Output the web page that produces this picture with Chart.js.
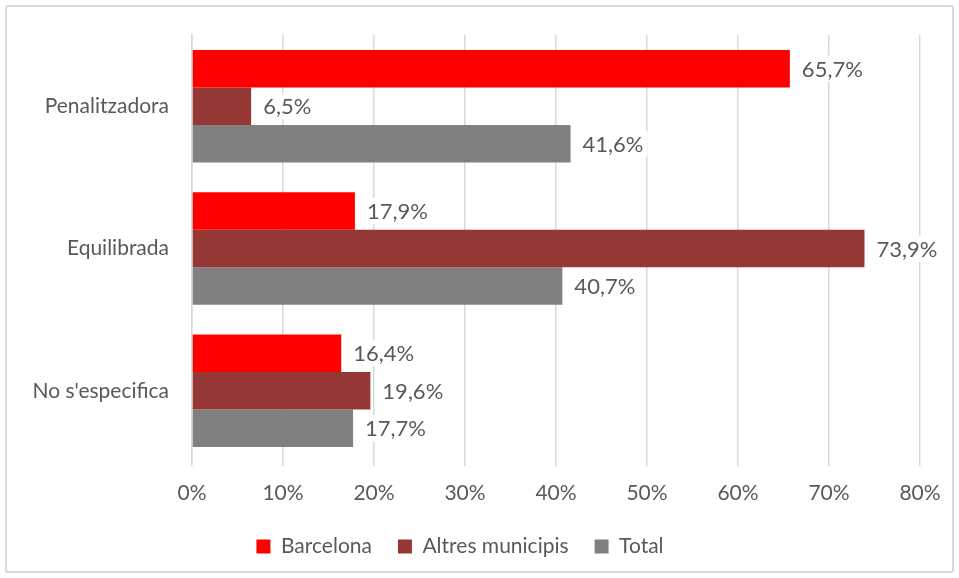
<!DOCTYPE html>
<html>
<head>
<meta charset="utf-8">
<script src="https://cdn.jsdelivr.net/npm/chart.js"></script>
<style>
  html, body { margin: 0; padding: 0; background: #fff; }
  #wrap { position: absolute; left: 0; top: 0; width: 959px; height: 578px; }
  #frame { position: absolute; left: 5px; top: 5px; width: 945px; height: 564px;
           border: 2px solid #d9d9d9; border-radius: 3px; pointer-events: none; }
</style>
</head>
<body>
<div id="wrap"><canvas id="chart"></canvas></div>
<div id="frame"></div>
<script>
// values
const categories = ['Penalitzadora', 'Equilibrada', "No s'especifica"];
const barcelona = [65.7, 17.9, 16.4];
const altres = [6.5, 73.9, 19.6];
const total = [41.6, 40.7, 17.7];
const seriesNames = ['Barcelona', 'Altres municipis', 'Total'];
const seriesColors = ['#ff0000', '#953735', '#808080'];

const FONT = 'Lato, "Open Sans", sans-serif';
const TEXT = '#595959';

const fmt = v => v.toFixed(1).replace('.', ',') + '%';

// labels at the end of each bar, on a white box
const valueLabels = {
    id: 'valueLabels',
    afterDatasetsDraw(chart) {
        const ctx = chart.ctx;
        ctx.save();
        ctx.font = '22px ' + FONT;
        ctx.textBaseline = 'middle';
        chart.data.datasets.forEach((ds, i) => {
            chart.getDatasetMeta(i).data.forEach((bar, j) => {
                const txt = fmt(ds.data[j]);
                const w = ctx.measureText(txt).width;
                const x = bar.x + 12;
                ctx.fillStyle = '#fff';
                ctx.fillRect(x - 4, bar.y - 13, w + 8, 26);
                ctx.fillStyle = TEXT;
                ctx.fillText(txt, x, bar.y + 1);
            });
        });
        ctx.restore();
    }
};

const datasets = [barcelona, altres, total].map((d, i) => ({
    label: seriesNames[i],
    data: d,
    backgroundColor: seriesColors[i],
    categoryPercentage: 0.79,
    barPercentage: 1.0
}));

new Chart(document.getElementById('chart'), {
    type: 'bar',
    data: { labels: categories, datasets: datasets },
    options: {
        indexAxis: 'y',
        responsive: true,
        maintainAspectRatio: false,
        animation: false,
        layout: { padding: { top: 35, right: 39, bottom: 11, left: 0 } },
        scales: {
            x: {
                min: 0, max: 80,
                ticks: {
                    stepSize: 10,
                    padding: 15,
                    color: TEXT,
                    font: { family: FONT, size: 21 },
                    callback: v => v + '%'
                },
                grid: { color: '#d9d9d9', lineWidth: 1.5, drawTicks: true, tickLength: 4 },
                border: { display: false },
                afterFit: s => { s.height = 48; }
            },
            y: {
                ticks: {
                    padding: 15,
                    color: TEXT,
                    font: { family: FONT, size: 21 }
                },
                grid: { display: false },
                border: { color: '#d9d9d9', width: 1.5 },
                afterFit: s => { s.width = 192; }
            }
        },
        plugins: {
            legend: {
                position: 'bottom',
                labels: {
                    boxWidth: 14,
                    boxHeight: 14,
                    padding: 26,
                    color: TEXT,
                    font: { family: FONT, size: 21 }
                }
            },
            tooltip: { enabled: false }
        }
    },
    plugins: [valueLabels]
});
</script>
</body>
</html>
